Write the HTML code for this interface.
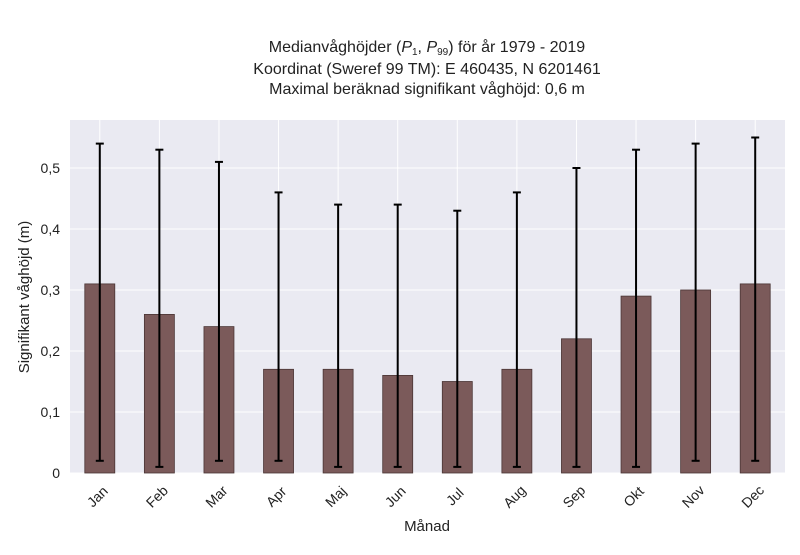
<!DOCTYPE html>
<html><head><meta charset="utf-8"><style>
body{margin:0;background:#fff;font-family:"Liberation Sans",sans-serif;}
svg text{font-family:"Liberation Sans",sans-serif;fill:#222;}
</style></head><body>
<svg id="chart" width="800" height="550">
<text x="427" y="52" text-anchor="middle" font-size="16">Medianvåghöjder (<tspan font-style="italic">P</tspan><tspan font-size="10" dy="3">1</tspan><tspan dy="-3">, </tspan><tspan font-style="italic">P</tspan><tspan font-size="10" dy="3">99</tspan><tspan dy="-3">) för år 1979 - 2019</tspan></text>
<text x="427" y="74" text-anchor="middle" font-size="16">Koordinat (Sweref 99 TM): E 460435, N 6201461</text>
<text x="427" y="94" text-anchor="middle" font-size="16">Maximal beräknad signifikant våghöjd: 0,6 m</text>
<rect x="70" y="120" width="715" height="353" fill="#eaeaf2"/>
<g id="grid"></g><g id="bars"></g><g id="axes"></g>
<text x="427" y="531" text-anchor="middle" font-size="15">Månad</text>
<text transform="translate(29,297) rotate(-90)" text-anchor="middle" font-size="15">Signifikant våghöjd (m)</text>
</svg>
<script>
const categories=["Jan","Feb","Mar","Apr","Maj","Jun","Jul","Aug","Sep","Okt","Nov","Dec"];
const medians=[0.31,0.26,0.24,0.17,0.17,0.16,0.15,0.17,0.22,0.29,0.30,0.31];
const upper=[0.54,0.53,0.51,0.46,0.44,0.44,0.43,0.46,0.50,0.53,0.54,0.55];
const lower=[0.02,0.01,0.02,0.02,0.01,0.01,0.01,0.01,0.01,0.01,0.02,0.02];
const yTicks=[0,0.1,0.2,0.3,0.4,0.5];
const yTickLabels=["0","0,1","0,2","0,3","0,4","0,5"];
const NS="http://www.w3.org/2000/svg";
const L=70,R=785,T=120,B=473;
const y=v=>B-v*610;
const step=(R-L)/categories.length;
const x=i=>L+step*(i+0.5);
function mk(t,a,p){const e=document.createElementNS(NS,t);for(const k in a)e.setAttribute(k,a[k]);p.appendChild(e);return e;}
const grid=document.getElementById('grid'),bars=document.getElementById('bars'),axes=document.getElementById('axes');
yTicks.forEach((v,i)=>{
 const g=mk('line',{x1:L,x2:R,y1:y(v),y2:y(v),stroke:'#fff','stroke-width':1},grid);
 
 
 const t=mk('text',{x:60,y:y(v)+5,'text-anchor':'end','font-size':14},axes);
 t.textContent=yTickLabels[i];
 
 
});
categories.forEach((c,i)=>{
 const g=mk('line',{x1:x(i),x2:x(i),y1:T,y2:B,stroke:'#fff','stroke-width':1},grid);
 
 
 const b=mk('rect',{x:x(i)-15,y:y(medians[i]),width:30,height:B-y(medians[i]),fill:'#7b5a5a',stroke:'#4a3535','stroke-width':0.8},bars);
 
 
 const e=mk('line',{x1:x(i),x2:x(i),y1:y(upper[i]),y2:y(lower[i]),stroke:'#000','stroke-width':2},bars);
 
 
 [upper[i],lower[i]].forEach(v=>{
  const cap=mk('line',{x1:x(i)-4,x2:x(i)+4,y1:y(v),y2:y(v),stroke:'#000','stroke-width':2},bars);
  
  
 });
 const t=mk('text',{x:0,y:0,'text-anchor':'middle','font-size':14,transform:`translate(${x(i)+1},${B+27}) rotate(-45)`},axes);
 t.textContent=c;
 
 
});
</script>
</body></html>
